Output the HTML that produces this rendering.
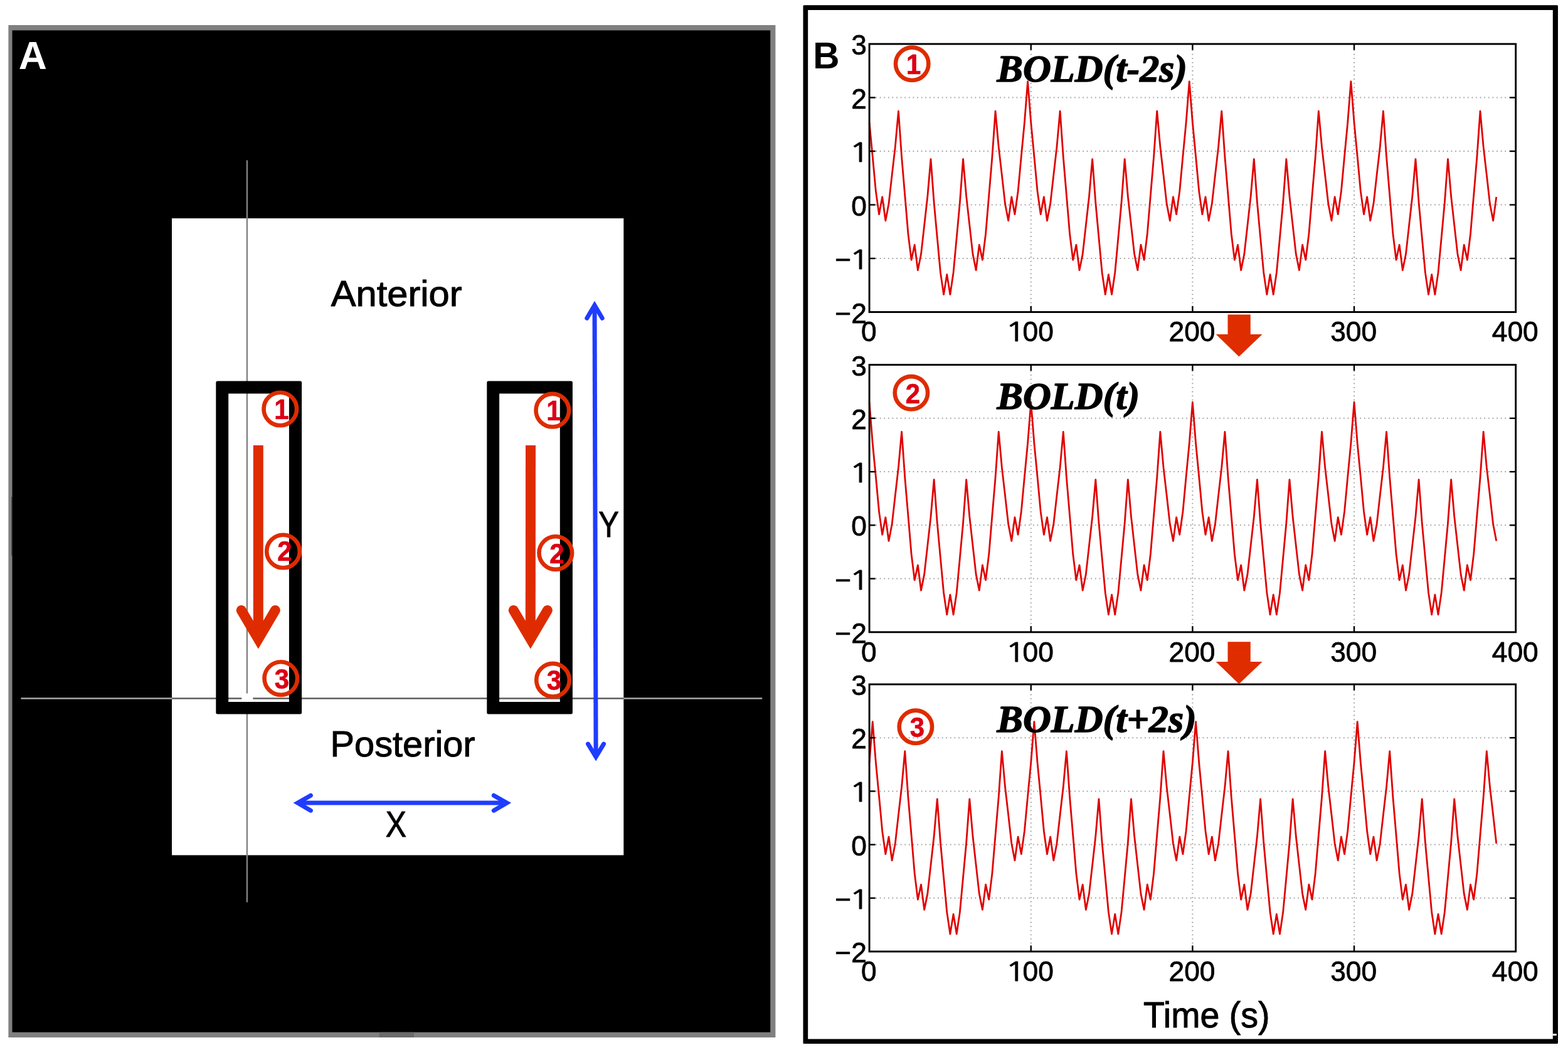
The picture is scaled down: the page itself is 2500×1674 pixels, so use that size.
<!DOCTYPE html>
<html lang="en"><head><meta charset="utf-8"><title>Figure: BOLD time-shift schematic</title>
<style>
html,body{margin:0;padding:0;background:#fff;}
body{width:2500px;height:1674px;overflow:hidden;}
svg{display:block;}
.sans{font-family:"Liberation Sans",sans-serif;}
.serif{font-family:"Liberation Serif",serif;font-weight:bold;font-style:italic;}
.tick{font-family:"Liberation Sans",sans-serif;font-size:44.3px;fill:#000;stroke:#000;stroke-width:0.8px;stroke-linejoin:round;}
.lab{font-family:"Liberation Sans",sans-serif;font-size:56.6px;fill:#000;stroke:#000;stroke-width:1px;stroke-linejoin:round;}
.dig{font-family:"Liberation Sans",sans-serif;font-weight:bold;font-size:45px;fill:#dc0014;stroke:#dc0014;stroke-width:0.7px;text-anchor:middle;}
.one{font-family:"NanumGothic","Liberation Sans",sans-serif;font-size:40.5px;}
</style></head><body>
<svg width="2500" height="1674" viewBox="0 0 2500 1674">
<rect x="0" y="0" width="2500" height="1674" fill="#fff"/>
<g id="panelA">
<rect x="13.4" y="40" width="1223" height="1614" fill="#808080"/>
<rect x="19.5" y="48.4" width="1208.7" height="1597.3" fill="#000"/>
<rect x="274" y="348.1" width="720.3" height="1015.3" fill="#fff"/>
<rect x="18.4" y="792" width="1.4" height="94" fill="#2a2a2a"/>
<rect x="604.5" y="1645.7" width="55.5" height="8.3" fill="#6b6b6b"/>
<g stroke-width="2.4" fill="none">
<line x1="393.9" y1="255.5" x2="393.9" y2="1105.6" stroke="#828282"/>
<line x1="393.9" y1="1121" x2="393.9" y2="1438.4" stroke="#828282"/>
<line x1="33.4" y1="1113.5" x2="274" y2="1113.5" stroke="#a8a8a8"/>
<line x1="274" y1="1113.5" x2="385.3" y2="1113.5" stroke="#5c5c5c"/>
<line x1="403.3" y1="1113.5" x2="994.3" y2="1113.5" stroke="#5c5c5c"/>
<line x1="994.3" y1="1113.5" x2="1215.2" y2="1113.5" stroke="#a8a8a8"/>
</g>
<path fill="#000" fill-rule="evenodd" d="M346.8,607.5 H478.6 Q481.1,607.5 481.1,610 V1136 Q481.1,1138.5 478.6,1138.5 H346.8 Q344.3,1138.5 344.3,1136 V610 Q344.3,607.5 346.8,607.5 Z M364.2,627.6 V1119.1 H460.9 V627.6 Z"/>
<path fill="#000" fill-rule="evenodd" d="M778.8,607.5 H910.4 Q912.9,607.5 912.9,610 V1136 Q912.9,1138.5 910.4,1138.5 H778.8 Q776.3,1138.5 776.3,1136 V610 Q776.3,607.5 778.8,607.5 Z M796.1,627.6 V1119.1 H892.8 V627.6 Z"/>
<g stroke="#de2c00" stroke-width="16" fill="none">
<line x1="411.8" y1="710" x2="411.8" y2="1015" stroke-linecap="butt"/>
<polyline points="384.8,973 411.8,1018.8 438.8,973" stroke-linecap="round" stroke-linejoin="miter" stroke-miterlimit="10"/>
</g>
<g stroke="#de2c00" stroke-width="16" fill="none">
<line x1="846" y1="710" x2="845.8" y2="1015" stroke-linecap="butt"/>
<polyline points="818.8,973 845.8,1018.8 872.8,973" stroke-linecap="round" stroke-linejoin="miter" stroke-miterlimit="10"/>
</g>
<circle cx="446.8" cy="652" r="26.3" fill="none" stroke="#de2c00" stroke-width="6.6"/>
<text class="dig" transform="translate(449,668) scale(0.93,1)">1</text>
<circle cx="451.5" cy="879" r="26.3" fill="none" stroke="#de2c00" stroke-width="6.6"/>
<text class="dig" transform="translate(454,894.3) scale(0.93,1)">2</text>
<circle cx="447.8" cy="1081.6" r="26.3" fill="none" stroke="#de2c00" stroke-width="6.6"/>
<text class="dig" transform="translate(449.3,1097.7) scale(0.93,1)">3</text>
<circle cx="880.8" cy="654.2" r="26.3" fill="none" stroke="#de2c00" stroke-width="6.6"/>
<text class="dig" transform="translate(883,669.8) scale(0.93,1)">1</text>
<circle cx="885.8" cy="881.6" r="26.3" fill="none" stroke="#de2c00" stroke-width="6.6"/>
<text class="dig" transform="translate(887.9,897.7) scale(0.93,1)">2</text>
<circle cx="881.5" cy="1084.2" r="26.3" fill="none" stroke="#de2c00" stroke-width="6.6"/>
<text class="dig" transform="translate(883.4,1100) scale(0.93,1)">3</text>
<g stroke="#1f3cff" stroke-width="7" fill="none" stroke-linecap="round" stroke-linejoin="miter" stroke-miterlimit="10">
<line x1="948" y1="487" x2="950.1" y2="1206.5" stroke-linecap="butt"/>
<polyline points="935.8,507.3 948,486.6 960.2,507.3"/>
<polyline points="937.6,1186.1 950.1,1206.7 962.5,1186.1"/>
<line x1="474.5" y1="1280.1" x2="808" y2="1280.1" stroke-linecap="butt"/>
<polyline points="495.4,1268.2 474.6,1280.1 495.4,1292.2"/>
<polyline points="787.3,1268.2 808.1,1280.1 787.3,1292.2"/>
</g>
<text class="lab" x="527.7" y="487.5" textLength="209" lengthAdjust="spacingAndGlyphs">Anterior</text>
<text class="lab" x="526.6" y="1206.4" textLength="231" lengthAdjust="spacingAndGlyphs">Posterior</text>
<text class="lab" transform="translate(631.3,1333.6) scale(0.88,1.0)" text-anchor="middle">X</text>
<text class="lab" transform="translate(970.5,856.2) scale(0.865,1.01)" text-anchor="middle">Y</text>
<text class="sans" x="29.7" y="109.8" font-size="62.4" font-weight="bold" fill="#fff">A</text>
</g>
<g id="panelB">
<path fill="#000" fill-rule="evenodd" d="M1282,8.3 H2482.5 Q2484,8.3 2484,9.8 V1662.5 Q2484,1664 2482.5,1664 H1282 Q1280.5,1664 1280.5,1662.5 V9.8 Q1280.5,8.3 1282,8.3 Z M1288.2,15.9 V1656.6 H2475.8 V15.9 Z"/>
<rect x="2475.6" y="1648.1" width="6.2" height="3" fill="#fff"/>
<text class="sans" x="1296.3" y="109.2" font-size="58.5" font-weight="bold" fill="#000">B</text>
<g stroke="#a4a4a4" stroke-width="2" fill="none" stroke-dasharray="1.8 4.8">
<line x1="1643.75" y1="79.1" x2="1643.75" y2="489.5"/>
<line x1="1901.4" y1="79.1" x2="1901.4" y2="489.5"/>
<line x1="2159.05" y1="79.1" x2="2159.05" y2="489.5"/>
<line x1="1396.1" y1="155.58" x2="2407.7" y2="155.58"/>
<line x1="1396.1" y1="241.06" x2="2407.7" y2="241.06"/>
<line x1="1396.1" y1="326.54" x2="2407.7" y2="326.54"/>
<line x1="1396.1" y1="412.02" x2="2407.7" y2="412.02"/>
</g>
<polyline fill="none" stroke="#e00000" stroke-width="2.8" stroke-linejoin="round" points="1386.1,195.45 1391.25,249.35 1396.41,304.84 1401.56,341.68 1406.71,313.96 1411.87,351.75 1417.02,324.83 1422.17,278.95 1427.32,234.18 1432.48,177.19 1437.63,250.48 1442.78,311.29 1447.94,372.71 1453.09,414.42 1458.24,390.41 1463.39,430.72 1468.55,405.06 1473.7,359.18 1478.85,313.14 1484.01,253.64 1489.16,323.22 1494.31,379.17 1499.47,434.65 1504.62,469.45 1509.77,437.66 1514.92,469.45 1520.08,434.65 1525.23,379.17 1530.38,323.22 1535.54,253.64 1540.69,313.14 1545.84,359.18 1551,405.06 1556.15,430.72 1561.3,390.41 1566.45,414.42 1571.61,372.71 1576.76,311.29 1581.91,250.48 1587.07,177.19 1592.22,234.18 1597.37,278.95 1602.53,324.83 1607.68,351.75 1612.83,313.96 1617.98,341.68 1623.14,304.84 1628.29,249.35 1633.44,195.45 1638.6,129.94 1643.75,195.45 1648.9,249.35 1654.06,304.84 1659.21,341.68 1664.36,313.96 1669.51,351.75 1674.67,324.83 1679.82,278.95 1684.97,234.18 1690.13,177.19 1695.28,250.48 1700.43,311.29 1705.59,372.71 1710.74,414.42 1715.89,390.41 1721.04,430.72 1726.2,405.06 1731.35,359.18 1736.5,313.14 1741.66,253.64 1746.81,323.22 1751.96,379.17 1757.12,434.65 1762.27,469.45 1767.42,437.66 1772.57,469.45 1777.73,434.65 1782.88,379.17 1788.03,323.22 1793.19,253.64 1798.34,313.14 1803.49,359.18 1808.65,405.06 1813.8,430.72 1818.95,390.41 1824.1,414.42 1829.26,372.71 1834.41,311.29 1839.56,250.48 1844.72,177.19 1849.87,234.18 1855.02,278.95 1860.18,324.83 1865.33,351.75 1870.48,313.96 1875.63,341.68 1880.79,304.84 1885.94,249.35 1891.09,195.45 1896.25,129.94 1901.4,195.45 1906.55,249.35 1911.71,304.84 1916.86,341.68 1922.01,313.96 1927.16,351.75 1932.32,324.83 1937.47,278.95 1942.62,234.18 1947.78,177.19 1952.93,250.48 1958.08,311.29 1963.24,372.71 1968.39,414.42 1973.54,390.41 1978.69,430.72 1983.85,405.06 1989,359.18 1994.15,313.14 1999.31,253.64 2004.46,323.22 2009.61,379.17 2014.77,434.65 2019.92,469.45 2025.07,437.66 2030.22,469.45 2035.38,434.65 2040.53,379.17 2045.68,323.22 2050.84,253.64 2055.99,313.14 2061.14,359.18 2066.3,405.06 2071.45,430.72 2076.6,390.41 2081.76,414.42 2086.91,372.71 2092.06,311.29 2097.21,250.48 2102.37,177.19 2107.52,234.18 2112.67,278.95 2117.83,324.83 2122.98,351.75 2128.13,313.96 2133.28,341.68 2138.44,304.84 2143.59,249.35 2148.74,195.45 2153.9,129.94 2159.05,195.45 2164.2,249.35 2169.36,304.84 2174.51,341.68 2179.66,313.96 2184.81,351.75 2189.97,324.83 2195.12,278.95 2200.27,234.18 2205.43,177.19 2210.58,250.48 2215.73,311.29 2220.89,372.71 2226.04,414.42 2231.19,390.41 2236.34,430.72 2241.5,405.06 2246.65,359.18 2251.8,313.14 2256.96,253.64 2262.11,323.22 2267.26,379.17 2272.42,434.65 2277.57,469.45 2282.72,437.66 2287.88,469.45 2293.03,434.65 2298.18,379.17 2303.33,323.22 2308.49,253.64 2313.64,313.14 2318.79,359.18 2323.95,405.06 2329.1,430.72 2334.25,390.41 2339.4,414.42 2344.56,372.71 2349.71,311.29 2354.86,250.48 2360.02,177.19 2365.17,234.18 2370.32,278.95 2375.48,324.83 2380.63,351.75 2385.78,313.96"/>
<rect x="1386.1" y="70.1" width="1030.6" height="427.4" fill="none" stroke="#000" stroke-width="2.9"/>
<g stroke="#000" stroke-width="2.4" fill="none">
<line x1="1643.75" y1="497.5" x2="1643.75" y2="487.9"/>
<line x1="1643.75" y1="70.1" x2="1643.75" y2="79.7"/>
<line x1="1901.4" y1="497.5" x2="1901.4" y2="487.9"/>
<line x1="1901.4" y1="70.1" x2="1901.4" y2="79.7"/>
<line x1="2159.05" y1="497.5" x2="2159.05" y2="487.9"/>
<line x1="2159.05" y1="70.1" x2="2159.05" y2="79.7"/>
<line x1="1386.1" y1="155.58" x2="1395.6" y2="155.58"/>
<line x1="2416.7" y1="155.58" x2="2407.2" y2="155.58"/>
<line x1="1386.1" y1="241.06" x2="1395.6" y2="241.06"/>
<line x1="2416.7" y1="241.06" x2="2407.2" y2="241.06"/>
<line x1="1386.1" y1="326.54" x2="1395.6" y2="326.54"/>
<line x1="2416.7" y1="326.54" x2="2407.2" y2="326.54"/>
<line x1="1386.1" y1="412.02" x2="1395.6" y2="412.02"/>
<line x1="2416.7" y1="412.02" x2="2407.2" y2="412.02"/>
</g>
<text class="tick" y="87.1"><tspan x="1357.16">3</tspan></text>
<text class="tick" y="172.58"><tspan x="1357.16">2</tspan></text>
<text class="tick" y="258.06"><tspan class="one" x="1353.89" textLength="33.13" lengthAdjust="spacingAndGlyphs">1</tspan></text>
<text class="tick" y="343.54"><tspan x="1357.16">0</tspan></text>
<text class="tick" y="429.02"><tspan x="1331.29">−</tspan><tspan class="one" x="1353.89" textLength="33.13" lengthAdjust="spacingAndGlyphs">1</tspan></text>
<text class="tick" y="514.5"><tspan x="1331.29">−2</tspan></text>
<text class="tick" y="544.3"><tspan x="1372.88">0</tspan></text>
<text class="tick" y="544.3"><tspan class="one" x="1602.62" textLength="33.13" lengthAdjust="spacingAndGlyphs">1</tspan><tspan x="1630.53">00</tspan></text>
<text class="tick" y="544.3"><tspan x="1863.54">200</tspan></text>
<text class="tick" y="544.3"><tspan x="2121.19">300</tspan></text>
<text class="tick" y="544.3"><tspan x="2378.84">400</tspan></text>
<text class="serif" transform="translate(1589.6,130.4) scale(1.008,1)" font-size="61.6" fill="#000" stroke="#000" stroke-width="1.5" stroke-linejoin="round">BOLD(t-2s)</text>
<circle cx="1454.2" cy="101.8" r="26.2" fill="none" stroke="#de2c00" stroke-width="6.6"/>
<text class="dig" transform="translate(1456.6,118.2) scale(0.93,1)">1</text>
<g stroke="#a4a4a4" stroke-width="2" fill="none" stroke-dasharray="1.8 4.8">
<line x1="1643.75" y1="590.6" x2="1643.75" y2="999.8"/>
<line x1="1901.4" y1="590.6" x2="1901.4" y2="999.8"/>
<line x1="2159.05" y1="590.6" x2="2159.05" y2="999.8"/>
<line x1="1396.1" y1="666.84" x2="2407.7" y2="666.84"/>
<line x1="1396.1" y1="752.08" x2="2407.7" y2="752.08"/>
<line x1="1396.1" y1="837.32" x2="2407.7" y2="837.32"/>
<line x1="1396.1" y1="922.56" x2="2407.7" y2="922.56"/>
</g>
<polyline fill="none" stroke="#e00000" stroke-width="2.8" stroke-linejoin="round" points="1386.1,641.27 1391.25,706.6 1396.41,760.35 1401.56,815.68 1406.71,852.41 1411.87,824.77 1417.02,862.46 1422.17,835.61 1427.32,789.86 1432.48,745.21 1437.63,688.39 1442.78,761.47 1447.94,822.12 1453.09,883.36 1458.24,924.95 1463.39,901.01 1468.55,941.21 1473.7,915.62 1478.85,869.87 1484.01,823.96 1489.16,764.63 1494.31,834.01 1499.47,889.8 1504.62,945.13 1509.77,979.82 1514.92,948.13 1520.08,979.82 1525.23,945.13 1530.38,889.8 1535.54,834.01 1540.69,764.63 1545.84,823.96 1551,869.87 1556.15,915.62 1561.3,941.21 1566.45,901.01 1571.61,924.95 1576.76,883.36 1581.91,822.12 1587.07,761.47 1592.22,688.39 1597.37,745.21 1602.53,789.86 1607.68,835.61 1612.83,862.46 1617.98,824.77 1623.14,852.41 1628.29,815.68 1633.44,760.35 1638.6,706.6 1643.75,641.27 1648.9,706.6 1654.06,760.35 1659.21,815.68 1664.36,852.41 1669.51,824.77 1674.67,862.46 1679.82,835.61 1684.97,789.86 1690.13,745.21 1695.28,688.39 1700.43,761.47 1705.59,822.12 1710.74,883.36 1715.89,924.95 1721.04,901.01 1726.2,941.21 1731.35,915.62 1736.5,869.87 1741.66,823.96 1746.81,764.63 1751.96,834.01 1757.12,889.8 1762.27,945.13 1767.42,979.82 1772.57,948.13 1777.73,979.82 1782.88,945.13 1788.03,889.8 1793.19,834.01 1798.34,764.63 1803.49,823.96 1808.65,869.87 1813.8,915.62 1818.95,941.21 1824.1,901.01 1829.26,924.95 1834.41,883.36 1839.56,822.12 1844.72,761.47 1849.87,688.39 1855.02,745.21 1860.18,789.86 1865.33,835.61 1870.48,862.46 1875.63,824.77 1880.79,852.41 1885.94,815.68 1891.09,760.35 1896.25,706.6 1901.4,641.27 1906.55,706.6 1911.71,760.35 1916.86,815.68 1922.01,852.41 1927.16,824.77 1932.32,862.46 1937.47,835.61 1942.62,789.86 1947.78,745.21 1952.93,688.39 1958.08,761.47 1963.24,822.12 1968.39,883.36 1973.54,924.95 1978.69,901.01 1983.85,941.21 1989,915.62 1994.15,869.87 1999.31,823.96 2004.46,764.63 2009.61,834.01 2014.77,889.8 2019.92,945.13 2025.07,979.82 2030.22,948.13 2035.38,979.82 2040.53,945.13 2045.68,889.8 2050.84,834.01 2055.99,764.63 2061.14,823.96 2066.3,869.87 2071.45,915.62 2076.6,941.21 2081.76,901.01 2086.91,924.95 2092.06,883.36 2097.21,822.12 2102.37,761.47 2107.52,688.39 2112.67,745.21 2117.83,789.86 2122.98,835.61 2128.13,862.46 2133.28,824.77 2138.44,852.41 2143.59,815.68 2148.74,760.35 2153.9,706.6 2159.05,641.27 2164.2,706.6 2169.36,760.35 2174.51,815.68 2179.66,852.41 2184.81,824.77 2189.97,862.46 2195.12,835.61 2200.27,789.86 2205.43,745.21 2210.58,688.39 2215.73,761.47 2220.89,822.12 2226.04,883.36 2231.19,924.95 2236.34,901.01 2241.5,941.21 2246.65,915.62 2251.8,869.87 2256.96,823.96 2262.11,764.63 2267.26,834.01 2272.42,889.8 2277.57,945.13 2282.72,979.82 2287.88,948.13 2293.03,979.82 2298.18,945.13 2303.33,889.8 2308.49,834.01 2313.64,764.63 2318.79,823.96 2323.95,869.87 2329.1,915.62 2334.25,941.21 2339.4,901.01 2344.56,924.95 2349.71,883.36 2354.86,822.12 2360.02,761.47 2365.17,688.39 2370.32,745.21 2375.48,789.86 2380.63,835.61 2385.78,862.46"/>
<rect x="1386.1" y="581.6" width="1030.6" height="426.2" fill="none" stroke="#000" stroke-width="2.9"/>
<g stroke="#000" stroke-width="2.4" fill="none">
<line x1="1643.75" y1="1007.8" x2="1643.75" y2="998.2"/>
<line x1="1643.75" y1="581.6" x2="1643.75" y2="591.2"/>
<line x1="1901.4" y1="1007.8" x2="1901.4" y2="998.2"/>
<line x1="1901.4" y1="581.6" x2="1901.4" y2="591.2"/>
<line x1="2159.05" y1="1007.8" x2="2159.05" y2="998.2"/>
<line x1="2159.05" y1="581.6" x2="2159.05" y2="591.2"/>
<line x1="1386.1" y1="666.84" x2="1395.6" y2="666.84"/>
<line x1="2416.7" y1="666.84" x2="2407.2" y2="666.84"/>
<line x1="1386.1" y1="752.08" x2="1395.6" y2="752.08"/>
<line x1="2416.7" y1="752.08" x2="2407.2" y2="752.08"/>
<line x1="1386.1" y1="837.32" x2="1395.6" y2="837.32"/>
<line x1="2416.7" y1="837.32" x2="2407.2" y2="837.32"/>
<line x1="1386.1" y1="922.56" x2="1395.6" y2="922.56"/>
<line x1="2416.7" y1="922.56" x2="2407.2" y2="922.56"/>
</g>
<text class="tick" y="598.6"><tspan x="1357.16">3</tspan></text>
<text class="tick" y="683.84"><tspan x="1357.16">2</tspan></text>
<text class="tick" y="769.08"><tspan class="one" x="1353.89" textLength="33.13" lengthAdjust="spacingAndGlyphs">1</tspan></text>
<text class="tick" y="854.32"><tspan x="1357.16">0</tspan></text>
<text class="tick" y="939.56"><tspan x="1331.29">−</tspan><tspan class="one" x="1353.89" textLength="33.13" lengthAdjust="spacingAndGlyphs">1</tspan></text>
<text class="tick" y="1024.8"><tspan x="1331.29">−2</tspan></text>
<text class="tick" y="1054.6"><tspan x="1372.88">0</tspan></text>
<text class="tick" y="1054.6"><tspan class="one" x="1602.62" textLength="33.13" lengthAdjust="spacingAndGlyphs">1</tspan><tspan x="1630.53">00</tspan></text>
<text class="tick" y="1054.6"><tspan x="1863.54">200</tspan></text>
<text class="tick" y="1054.6"><tspan x="2121.19">300</tspan></text>
<text class="tick" y="1054.6"><tspan x="2378.84">400</tspan></text>
<text class="serif" transform="translate(1589.6,652.3) scale(1.008,1)" font-size="61.6" fill="#000" stroke="#000" stroke-width="1.5" stroke-linejoin="round">BOLD(t)</text>
<circle cx="1452.9" cy="626.3" r="26.2" fill="none" stroke="#de2c00" stroke-width="6.6"/>
<text class="dig" transform="translate(1455.3,642.7) scale(0.93,1)">2</text>
<g stroke="#a4a4a4" stroke-width="2" fill="none" stroke-dasharray="1.8 4.8">
<line x1="1643.75" y1="1100" x2="1643.75" y2="1509"/>
<line x1="1901.4" y1="1100" x2="1901.4" y2="1509"/>
<line x1="2159.05" y1="1100" x2="2159.05" y2="1509"/>
<line x1="1396.1" y1="1176.2" x2="2407.7" y2="1176.2"/>
<line x1="1396.1" y1="1261.4" x2="2407.7" y2="1261.4"/>
<line x1="1396.1" y1="1346.6" x2="2407.7" y2="1346.6"/>
<line x1="1396.1" y1="1431.8" x2="2407.7" y2="1431.8"/>
</g>
<polyline fill="none" stroke="#e00000" stroke-width="2.8" stroke-linejoin="round" points="1386.1,1215.94 1391.25,1150.64 1396.41,1215.94 1401.56,1269.67 1406.71,1324.97 1411.87,1361.69 1417.02,1334.06 1422.17,1371.73 1427.32,1344.89 1432.48,1299.16 1437.63,1254.54 1442.78,1197.74 1447.94,1270.79 1453.09,1331.4 1458.24,1392.62 1463.39,1434.19 1468.55,1410.26 1473.7,1450.44 1478.85,1424.86 1484.01,1379.13 1489.16,1333.25 1494.31,1273.94 1499.47,1343.29 1504.62,1399.06 1509.77,1454.36 1514.92,1489.04 1520.08,1457.36 1525.23,1489.04 1530.38,1454.36 1535.54,1399.06 1540.69,1343.29 1545.84,1273.94 1551,1333.25 1556.15,1379.13 1561.3,1424.86 1566.45,1450.44 1571.61,1410.26 1576.76,1434.19 1581.91,1392.62 1587.07,1331.4 1592.22,1270.79 1597.37,1197.74 1602.53,1254.54 1607.68,1299.16 1612.83,1344.89 1617.98,1371.73 1623.14,1334.06 1628.29,1361.69 1633.44,1324.97 1638.6,1269.67 1643.75,1215.94 1648.9,1150.64 1654.06,1215.94 1659.21,1269.67 1664.36,1324.97 1669.51,1361.69 1674.67,1334.06 1679.82,1371.73 1684.97,1344.89 1690.13,1299.16 1695.28,1254.54 1700.43,1197.74 1705.59,1270.79 1710.74,1331.4 1715.89,1392.62 1721.04,1434.19 1726.2,1410.26 1731.35,1450.44 1736.5,1424.86 1741.66,1379.13 1746.81,1333.25 1751.96,1273.94 1757.12,1343.29 1762.27,1399.06 1767.42,1454.36 1772.57,1489.04 1777.73,1457.36 1782.88,1489.04 1788.03,1454.36 1793.19,1399.06 1798.34,1343.29 1803.49,1273.94 1808.65,1333.25 1813.8,1379.13 1818.95,1424.86 1824.1,1450.44 1829.26,1410.26 1834.41,1434.19 1839.56,1392.62 1844.72,1331.4 1849.87,1270.79 1855.02,1197.74 1860.18,1254.54 1865.33,1299.16 1870.48,1344.89 1875.63,1371.73 1880.79,1334.06 1885.94,1361.69 1891.09,1324.97 1896.25,1269.67 1901.4,1215.94 1906.55,1150.64 1911.71,1215.94 1916.86,1269.67 1922.01,1324.97 1927.16,1361.69 1932.32,1334.06 1937.47,1371.73 1942.62,1344.89 1947.78,1299.16 1952.93,1254.54 1958.08,1197.74 1963.24,1270.79 1968.39,1331.4 1973.54,1392.62 1978.69,1434.19 1983.85,1410.26 1989,1450.44 1994.15,1424.86 1999.31,1379.13 2004.46,1333.25 2009.61,1273.94 2014.77,1343.29 2019.92,1399.06 2025.07,1454.36 2030.22,1489.04 2035.38,1457.36 2040.53,1489.04 2045.68,1454.36 2050.84,1399.06 2055.99,1343.29 2061.14,1273.94 2066.3,1333.25 2071.45,1379.13 2076.6,1424.86 2081.76,1450.44 2086.91,1410.26 2092.06,1434.19 2097.21,1392.62 2102.37,1331.4 2107.52,1270.79 2112.67,1197.74 2117.83,1254.54 2122.98,1299.16 2128.13,1344.89 2133.28,1371.73 2138.44,1334.06 2143.59,1361.69 2148.74,1324.97 2153.9,1269.67 2159.05,1215.94 2164.2,1150.64 2169.36,1215.94 2174.51,1269.67 2179.66,1324.97 2184.81,1361.69 2189.97,1334.06 2195.12,1371.73 2200.27,1344.89 2205.43,1299.16 2210.58,1254.54 2215.73,1197.74 2220.89,1270.79 2226.04,1331.4 2231.19,1392.62 2236.34,1434.19 2241.5,1410.26 2246.65,1450.44 2251.8,1424.86 2256.96,1379.13 2262.11,1333.25 2267.26,1273.94 2272.42,1343.29 2277.57,1399.06 2282.72,1454.36 2287.88,1489.04 2293.03,1457.36 2298.18,1489.04 2303.33,1454.36 2308.49,1399.06 2313.64,1343.29 2318.79,1273.94 2323.95,1333.25 2329.1,1379.13 2334.25,1424.86 2339.4,1450.44 2344.56,1410.26 2349.71,1434.19 2354.86,1392.62 2360.02,1331.4 2365.17,1270.79 2370.32,1197.74 2375.48,1254.54 2380.63,1299.16 2385.78,1344.89"/>
<rect x="1386.1" y="1091" width="1030.6" height="426" fill="none" stroke="#000" stroke-width="2.9"/>
<g stroke="#000" stroke-width="2.4" fill="none">
<line x1="1643.75" y1="1517" x2="1643.75" y2="1507.4"/>
<line x1="1643.75" y1="1091" x2="1643.75" y2="1100.6"/>
<line x1="1901.4" y1="1517" x2="1901.4" y2="1507.4"/>
<line x1="1901.4" y1="1091" x2="1901.4" y2="1100.6"/>
<line x1="2159.05" y1="1517" x2="2159.05" y2="1507.4"/>
<line x1="2159.05" y1="1091" x2="2159.05" y2="1100.6"/>
<line x1="1386.1" y1="1176.2" x2="1395.6" y2="1176.2"/>
<line x1="2416.7" y1="1176.2" x2="2407.2" y2="1176.2"/>
<line x1="1386.1" y1="1261.4" x2="1395.6" y2="1261.4"/>
<line x1="2416.7" y1="1261.4" x2="2407.2" y2="1261.4"/>
<line x1="1386.1" y1="1346.6" x2="1395.6" y2="1346.6"/>
<line x1="2416.7" y1="1346.6" x2="2407.2" y2="1346.6"/>
<line x1="1386.1" y1="1431.8" x2="1395.6" y2="1431.8"/>
<line x1="2416.7" y1="1431.8" x2="2407.2" y2="1431.8"/>
</g>
<text class="tick" y="1108"><tspan x="1357.16">3</tspan></text>
<text class="tick" y="1193.2"><tspan x="1357.16">2</tspan></text>
<text class="tick" y="1278.4"><tspan class="one" x="1353.89" textLength="33.13" lengthAdjust="spacingAndGlyphs">1</tspan></text>
<text class="tick" y="1363.6"><tspan x="1357.16">0</tspan></text>
<text class="tick" y="1448.8"><tspan x="1331.29">−</tspan><tspan class="one" x="1353.89" textLength="33.13" lengthAdjust="spacingAndGlyphs">1</tspan></text>
<text class="tick" y="1534"><tspan x="1331.29">−2</tspan></text>
<text class="tick" y="1563.8"><tspan x="1372.88">0</tspan></text>
<text class="tick" y="1563.8"><tspan class="one" x="1602.62" textLength="33.13" lengthAdjust="spacingAndGlyphs">1</tspan><tspan x="1630.53">00</tspan></text>
<text class="tick" y="1563.8"><tspan x="1863.54">200</tspan></text>
<text class="tick" y="1563.8"><tspan x="2121.19">300</tspan></text>
<text class="tick" y="1563.8"><tspan x="2378.84">400</tspan></text>
<text class="serif" transform="translate(1589.6,1166.6) scale(1.008,1)" font-size="61.6" fill="#000" stroke="#000" stroke-width="1.5" stroke-linejoin="round">BOLD(t+2s)</text>
<circle cx="1459.9" cy="1158.8" r="26.2" fill="none" stroke="#de2c00" stroke-width="6.6"/>
<text class="dig" transform="translate(1462.3,1175.2) scale(0.93,1)">3</text>
<polygon fill="#df2d00" points="1957.5,501.6 1993.8,501.6 1993.8,533.1 2012.6,533.1 1975.4,568.6 1938.7,533.1 1957.5,533.1"/>
<polygon fill="#df2d00" points="1957.5,1023.3 1993.8,1023.3 1993.8,1054.9 2012.6,1054.9 1975.4,1090.5 1938.7,1054.9 1957.5,1054.9"/>
<text class="lab" x="1823" y="1638.1" textLength="201.5" lengthAdjust="spacingAndGlyphs">Time (s)</text>
</g>
</svg>
</body></html>
